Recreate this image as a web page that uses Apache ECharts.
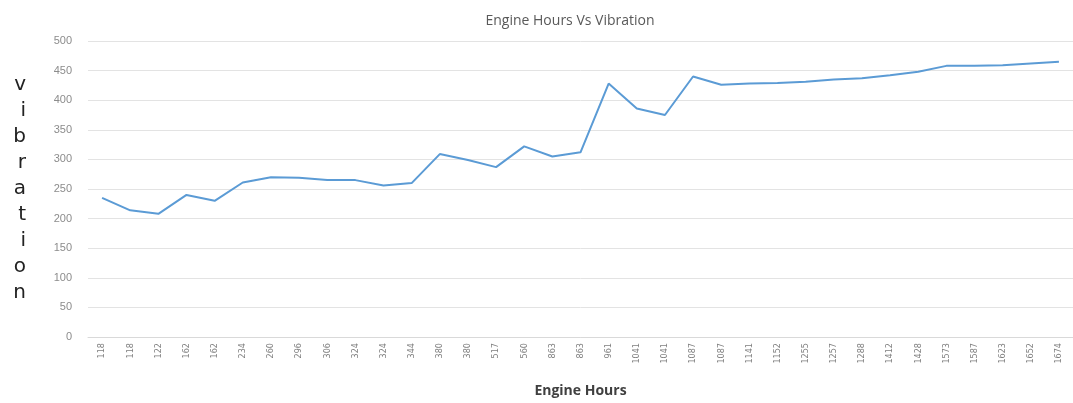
<!DOCTYPE html>
<html>
<head>
<meta charset="utf-8">
<script src="https://cdn.jsdelivr.net/npm/echarts@6/dist/echarts.min.js"></script>
<style>
  html, body { margin: 0; padding: 0; background: #fff; }
  #mainChart { width: 1073px; height: 403px; }
</style>
</head>
<body>
<div id="mainChart"></div>
<script>
'use strict'
var engineHours = ['118','118','122','162','162','234','260','296','306','324','324','344','380','380','517','560','863','863',
    '961','1041','1041','1087','1087','1141','1152','1255','1257','1288','1412','1428','1573','1587','1623','1652','1674'];
var vibration = [235, 214, 208, 240, 230, 261, 270, 269, 265, 265, 256, 260, 309, 299, 287, 322, 305, 312,
    428, 386, 375, 440, 426, 428, 429, 431, 435, 437, 442, 448, 458, 458, 459, 462, 465];
var yTicks = [0, 50, 100, 150, 200, 250, 300, 350, 400, 450, 500];

var myChart = echarts.init(document.getElementById('mainChart'));
myChart.setOption({
    animation: false,
    title: {
        text: 'Engine Hours Vs Vibration',
        left: 565,
        textAlign: 'center',
        top: 9,
        textStyle: { fontFamily: 'Open Sans', fontSize: 14, fontWeight: 'normal', color: '#595959' }
    },
    grid: { left: 88, right: -7, top: 41, bottom: 62 },
    xAxis: {
        type: 'category',
        data: engineHours,
        name: 'Engine Hours',
        nameLocation: 'middle',
        nameGap: 47,
        nameTextStyle: { fontFamily: 'Open Sans', fontSize: 14, fontWeight: 'bold', color: '#404040' },
        axisLine: { lineStyle: { color: '#d9d9d9' } },
        axisTick: { show: false },
        axisLabel: { rotate: 90, interval: 0, fontSize: 9, color: '#7f7f7f', margin: 6, fontFamily: 'DejaVu Sans Condensed' }
    },
    yAxis: {
        type: 'value',
        min: yTicks[0],
        max: yTicks[yTicks.length - 1],
        interval: 50,
        name: 'v\ni\nb\nr\na\nt\ni\no\nn',
        nameLocation: 'middle',
        nameRotate: 0,
        nameGap: 62,
        nameTextStyle: { fontFamily: 'DejaVu Sans', fontSize: 20, lineHeight: 26, color: '#222', padding: [8, 0, 0, 0] },
        axisLine: { show: false },
        axisTick: { show: false },
        axisLabel: { fontSize: 11, color: '#8c8c8c', margin: 16 },
        splitLine: { lineStyle: { color: '#e3e3e3' } }
    },
    series: [
        {
            name: 'vibration',
            type: 'line',
            data: vibration,
            symbol: 'none',
            lineStyle: { color: '#5b9bd5', width: 2 }
        }
    ]
});
</script>
</body>
</html>
